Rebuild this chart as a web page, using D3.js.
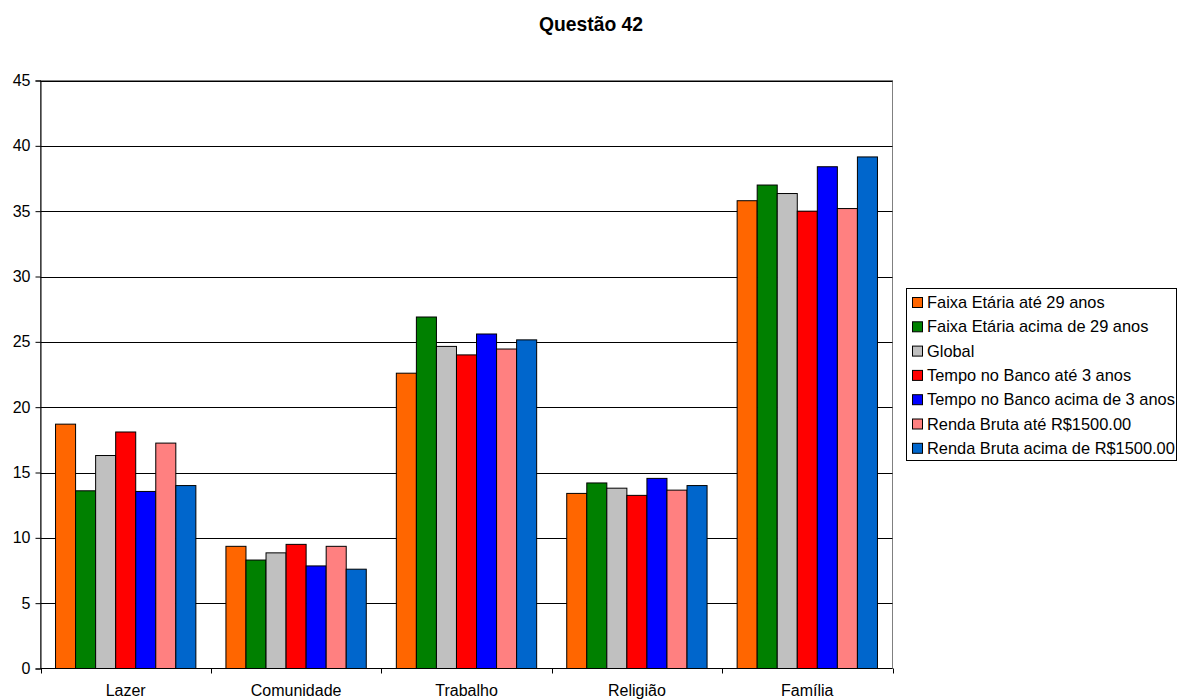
<!DOCTYPE html>
<html>
<head>
<meta charset="utf-8">
<script src="https://cdn.jsdelivr.net/npm/d3@7"></script>
<style>
  html, body { margin: 0; padding: 0; background: #fff; }
  svg { display: block; font-family: "Liberation Sans", Arial, sans-serif; }
</style>
</head>
<body>
<svg id="chart" width="1179" height="700"></svg>
<script>
// Categories on the x axis
const categories = ["Lazer", "Comunidade", "Trabalho", "Religião", "Família"];

// Series names (legend order) and fill colours
const seriesNames = [
  "Faixa Etária até 29 anos",
  "Faixa Etária acima de 29 anos",
  "Global",
  "Tempo no Banco até 3 anos",
  "Tempo no Banco acima de 3 anos",
  "Renda Bruta até R$1500.00",
  "Renda Bruta acima de R$1500.00"
];
const seriesColors = ["#FF6600", "#008000", "#C0C0C0", "#FF0000", "#0000FF", "#FF8080", "#0066CC"];

// Values per series, one entry per category
const faixaAte29     = [18.7, 9.35, 22.6, 13.4, 35.8];
const faixaAcima29   = [13.6, 8.3, 26.9, 14.2, 37.0];
const global         = [16.3, 8.85, 24.65, 13.8, 36.35];
const tempoAte3      = [18.1, 9.5, 24.0, 13.25, 35.0];
const tempoAcima3    = [13.55, 7.85, 25.6, 14.55, 38.4];
const rendaAte1500   = [17.25, 9.35, 24.45, 13.65, 35.2];
const rendaAcima1500 = [14.0, 7.6, 25.15, 14.0, 39.15];

const seriesValues = [faixaAte29, faixaAcima29, global, tempoAte3, tempoAcima3, rendaAte1500, rendaAcima1500];

// Y axis ticks
const yTicks = [0, 5, 10, 15, 20, 25, 30, 35, 40, 45];

const svg = d3.select("#chart");
const plot = { left: 40.5, right: 892.5, top: 80.5, bottom: 668.5 };
const labelSize = 16;

const x = d3.scaleBand().domain(categories).range([plot.left, plot.right]).padding(0);
const xInner = d3.scaleBand().domain(d3.range(seriesNames.length))
  .range([0, x.bandwidth()]).paddingInner(0).paddingOuter(0.75);
const y = d3.scaleLinear().domain([0, 45]).range([plot.bottom, plot.top]);

// Title
svg.append("text")
  .attr("x", 591).attr("y", 31)
  .attr("text-anchor", "middle")
  .attr("font-size", 19.3).attr("font-weight", "bold")
  .text("Questão 42");

// Plot area border
svg.append("rect")
  .attr("x", plot.left).attr("y", plot.top)
  .attr("width", plot.right - plot.left).attr("height", plot.bottom - plot.top)
  .attr("fill", "none").attr("stroke", "#808080").attr("stroke-width", 1);

// Horizontal gridlines
svg.append("g")
  .selectAll("line")
  .data(yTicks.filter(d => d > 0))
  .join("line")
  .attr("x1", plot.left).attr("x2", plot.right)
  .attr("y1", d => Math.round(y(d)) + 0.5).attr("y2", d => Math.round(y(d)) + 0.5)
  .attr("stroke", "#000").attr("stroke-width", 1);

// Bars
const groups = svg.append("g")
  .selectAll("g")
  .data(categories)
  .join("g")
  .attr("transform", d => `translate(${x(d)},0)`);

groups.selectAll("rect")
  .data((c, ci) => seriesValues.map((vals, si) => ({ si, v: vals[ci] })))
  .join("rect")
  .attr("x", d => xInner(d.si))
  .attr("y", d => y(d.v))
  .attr("width", xInner.bandwidth())
  .attr("height", d => y(0) - y(d.v))
  .attr("fill", d => seriesColors[d.si])
  .attr("stroke", "#000").attr("stroke-width", 1);

// Y axis
const yAxis = d3.axisLeft(y).tickValues(yTicks).tickSize(5).tickPadding(5);
const gy = svg.append("g").attr("transform", `translate(${plot.left},0)`).call(yAxis);
gy.select(".domain").attr("stroke", "#000");
gy.selectAll(".tick line").attr("stroke", "#000");
gy.selectAll("text").attr("font-size", labelSize).attr("fill", "#000")
  .attr("font-family", "Liberation Sans, Arial, sans-serif");

// X axis with ticks at category boundaries
const gx = svg.append("g").attr("transform", `translate(0,${plot.bottom})`);
gx.append("line").attr("x1", plot.left).attr("x2", plot.right)
  .attr("stroke", "#000");
gx.selectAll("line.tick")
  .data(categories.map(c => x(c)).concat([plot.right]))
  .join("line").attr("class", "tick")
  .attr("x1", d => Math.round(d) + 0.5).attr("x2", d => Math.round(d) + 0.5)
  .attr("y1", 0).attr("y2", 5).attr("stroke", "#000");
gx.selectAll("text")
  .data(categories)
  .join("text")
  .attr("x", d => x(d) + x.bandwidth() / 2)
  .attr("y", 27)
  .attr("text-anchor", "middle")
  .attr("font-size", labelSize)
  .text(d => d);

// Legend
const legend = svg.append("g").attr("transform", "translate(906.5,288.5)");
legend.append("rect")
  .attr("width", 270).attr("height", 172)
  .attr("fill", "#fff").attr("stroke", "#000").attr("stroke-width", 1);
const items = legend.selectAll("g.item")
  .data(seriesNames)
  .join("g").attr("class", "item")
  .attr("transform", (d, i) => `translate(6,${9 + i * 24.3})`);
items.append("rect")
  .attr("width", 10).attr("height", 10)
  .attr("fill", (d, i) => seriesColors[i])
  .attr("stroke", "#000").attr("stroke-width", 1);
items.append("text")
  .attr("x", 14.5).attr("y", 10.5)
  .attr("font-size", 16.4)
  .text(d => d);
</script>
</body>
</html>
